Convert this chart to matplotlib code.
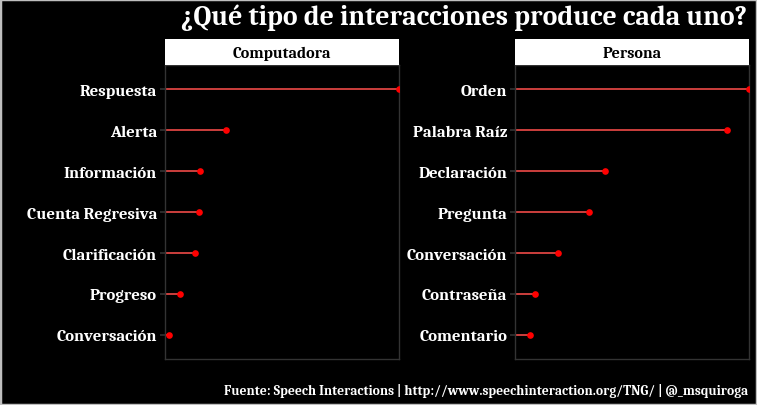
import matplotlib
matplotlib.use("Agg")
import matplotlib.pyplot as plt
from matplotlib.patches import Rectangle

# Data (estimated, relative frequency scaled to max = 100)
comp_labels = ["Respuesta", "Alerta", "Información", "Cuenta Regresiva",
               "Clarificación", "Progreso", "Conversación"]
comp_values = [100, 26.2, 15.1, 14.5, 12.8, 6.5, 2.0]

pers_labels = ["Orden", "Palabra Raíz", "Declaración", "Pregunta",
               "Conversación", "Contraseña", "Comentario"]
pers_values = [100, 90.5, 38.6, 31.5, 18.4, 8.5, 6.3]

panel_titles = ["Computadora", "Persona"]
title = "¿Qué tipo de interacciones produce cada uno?"
caption = "Fuente: Speech Interactions | http://www.speechinteraction.org/TNG/ | @_msquiroga"

W, H = 757, 406
FONT = ["Caladea", "DejaVu Serif"]

fig = plt.figure(figsize=(W / 100, H / 100), dpi=100, facecolor="black")
renderer = fig.canvas.get_renderer()


def fit(text_obj, target_px):
    w = text_obj.get_window_extent(renderer).width
    text_obj.set_fontsize(text_obj.get_fontsize() * target_px / w)


def fx(px):
    return px / W


def fy(py):
    return 1 - py / H


panels = [
    (164.7, 398.7, comp_labels, comp_values, panel_titles[0]),
    (515.0, 749.0, pers_labels, pers_values, panel_titles[1]),
]
top_strip, top_panel, bottom_panel = 40.0, 65.7, 360.3

# size for tick labels: "Cuenta Regresiva" ~131 px wide in the reference
probe = fig.text(0, 0, "Cuenta Regresiva", fontfamily=FONT, fontweight="bold",
                 fontsize=11)
fit(probe, 131)
tick_fs = probe.get_fontsize()
probe.remove()

strip_fs = None
for x0, x1, labels, values, ptitle in panels:
    ax = fig.add_axes([fx(x0), fy(bottom_panel), fx(x1) - fx(x0),
                       fy(top_panel) - fy(bottom_panel)])
    ax.set_facecolor("black")
    n = len(labels)
    ypos = list(range(n - 1, -1, -1))
    ax.hlines(ypos, 0, values, color="#ee4a48", linewidth=1.2, zorder=2)
    ax.plot(values, ypos, "o", color="#ff0000", markersize=4.8, zorder=3,
            markeredgewidth=0)
    ax.set_xlim(0, max(values))
    ax.set_ylim(-0.6, n - 0.4)
    ax.set_yticks(ypos)
    ax.set_yticklabels(labels, fontfamily=FONT, fontweight="bold",
                       fontsize=tick_fs, color="white")
    ax.set_xticks([])
    ax.tick_params(axis="y", length=3.4, width=1.2, color="#333333", pad=2.2)
    for s in ax.spines.values():
        s.set_color("#333333")
        s.set_linewidth(1.0)
    # strip
    sax = fig.add_axes([fx(x0), fy(top_panel), fx(x1) - fx(x0),
                        fy(top_strip) - fy(top_panel)])
    sax.set_facecolor("white")
    sax.set_xticks([])
    sax.set_yticks([])
    for s in sax.spines.values():
        s.set_visible(False)
    st = sax.text(0.5, 0.47, ptitle, ha="center", va="center", color="black",
                  fontfamily=FONT, fontweight="bold", fontsize=11,
                  transform=sax.transAxes)
    if strip_fs is None:
        fit(st, 99)
        strip_fs = st.get_fontsize()
    else:
        st.set_fontsize(strip_fs)

t = fig.text(fx(747), fy(18), title, ha="right", va="center", color="white",
             fontfamily=FONT, fontweight="bold", fontsize=18)
fit(t, 564)
c = fig.text(fx(748), fy(391), caption, ha="right", va="center", color="white",
             fontfamily=FONT, fontweight="bold", fontsize=9)
fit(c, 522)

fig.patches.append(Rectangle((0, 0), 1, 1, transform=fig.transFigure,
                             fill=False, edgecolor="#bfbfbf", linewidth=2.5))

fig.savefig("out.png", dpi=100, facecolor="black")
